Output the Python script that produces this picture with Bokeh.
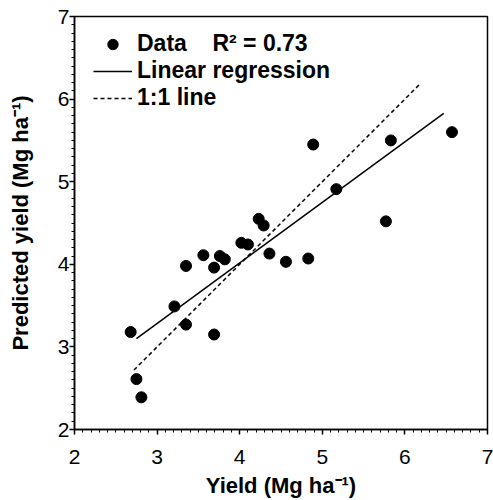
from bokeh.plotting import figure
from bokeh.models import (Range1d, SingleIntervalTicker, Legend, LegendItem,
                          ColumnDataSource)
from bokeh.embed import file_html
from bokeh.resources import INLINE

# Observed yield (Mg/ha) and predicted yield (Mg/ha)
yield_obs = [2.68, 2.75, 2.81, 3.21, 3.35, 3.35, 3.56, 3.69, 3.69, 3.76, 3.82,
             4.02, 4.10, 4.23, 4.29, 4.36, 4.56, 4.83, 4.89, 5.17, 5.77, 5.83, 6.57]
yield_pred = [3.18, 2.61, 2.39, 3.49, 3.98, 3.27, 4.11, 3.96, 3.15, 4.10, 4.06,
              4.26, 4.24, 4.55, 4.47, 4.13, 4.03, 4.07, 5.45, 4.91, 4.52, 5.50, 5.60]

# Linear regression line (slope, intercept, x extent)
reg_slope = 0.733
reg_intercept = 1.084
reg_x = [2.75, 6.47]
reg_y = [reg_intercept + reg_slope * v for v in reg_x]

# 1:1 line extent
one_x = [2.72, 6.17]
one_y = [2.72, 6.17]

r2_text = "R\u00b2 = 0.73"
x_title = "Yield (Mg ha\u207b\u00b9)"
y_title = "Predicted yield (Mg ha\u207b\u00b9)"

FONT = "Liberation Sans"

p = figure(width=493, height=500, output_backend="svg", toolbar_location=None,
           x_range=Range1d(2, 7), y_range=Range1d(2, 7),
           min_border_left=74, min_border_right=6, min_border_top=16,
           min_border_bottom=71)
p.background_fill_color = "white"
p.border_fill_color = "white"
p.grid.visible = False
p.outline_line_color = "black"
p.outline_line_width = 1.5

src = ColumnDataSource(dict(x=yield_obs, y=yield_pred))
pts = p.scatter("x", "y", source=src, size=11, marker="circle",
                fill_color="black", line_color="black")
# legend key: smaller marker drawn on the first data point (hidden under it)
key = p.scatter(yield_obs[:1], yield_pred[:1], size=8, marker="circle",
                fill_color="black", line_color="black")
reg = p.line(reg_x, reg_y, line_color="black", line_width=1.5)
one = p.line(one_x, one_y, line_color="black", line_width=1.5, line_dash="4 3")

for ax in (p.xaxis[0], p.yaxis[0]):
    ax.ticker = SingleIntervalTicker(interval=1, num_minor_ticks=10)
    ax.axis_line_color = "black"
    ax.axis_line_width = 1.5
    ax.major_tick_line_color = "black"
    ax.minor_tick_line_color = "black"
    ax.major_tick_line_width = 1.5
    ax.major_tick_in = 0
    ax.major_tick_out = 5
    ax.minor_tick_in = 0
    ax.minor_tick_out = 3
    ax.major_label_text_font = FONT
    ax.major_label_text_font_size = "21px"
    ax.major_label_text_color = "black"
    ax.axis_label_text_font = FONT
    ax.axis_label_text_font_style = "bold"
    ax.axis_label_text_font_size = "22px"
    ax.axis_label_text_color = "black"

p.xaxis[0].major_label_standoff = 15
p.yaxis[0].major_label_standoff = 0

p.xaxis[0].axis_label = x_title
p.xaxis[0].axis_label_standoff = 6
p.yaxis[0].axis_label = y_title
p.yaxis[0].axis_label_standoff = 22

legend = Legend(items=[
    LegendItem(label="Data    " + r2_text, renderers=[key]),
    LegendItem(label="Linear regression", renderers=[reg]),
    LegendItem(label="1:1 line", renderers=[one]),
], location=(19, 318))
legend.border_line_color = None
legend.background_fill_alpha = 0
legend.margin = 0
legend.padding = 0
legend.spacing = 0
legend.label_height = 26
legend.glyph_height = 26
legend.glyph_width = 39
legend.label_standoff = 5
legend.label_text_font = FONT
legend.label_text_font_style = "bold"
legend.label_text_font_size = "23px"
legend.label_text_color = "black"
p.add_layout(legend, "center")

open("out.html", "w").write(file_html(p, INLINE))
